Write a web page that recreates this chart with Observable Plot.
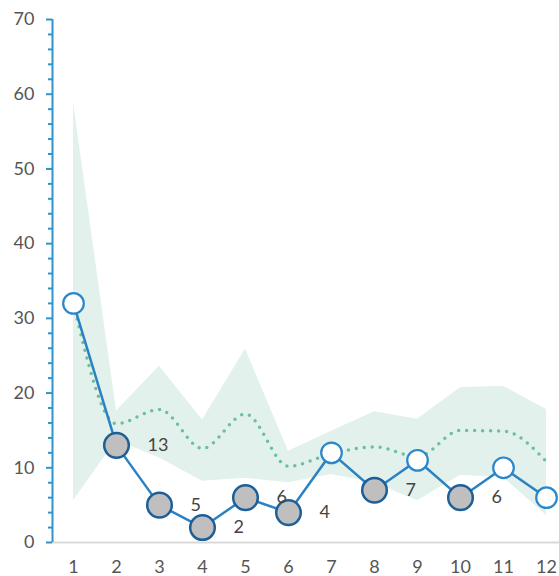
<!DOCTYPE html>
<html>
<head>
<meta charset="utf-8">
<script src="https://cdn.jsdelivr.net/npm/d3@7"></script>
<script src="https://cdn.jsdelivr.net/npm/@observablehq/plot@0.6"></script>
<style>
  html, body { margin: 0; padding: 0; background: #fff; }
</style>
</head>
<body>
<div id="chart"></div>
<script>
// Monthly values with their reference band and average
const months   = [1, 2, 3, 4, 5, 6, 7, 8, 9, 10, 11, 12];
const values   = [32, 13, 5, 2, 6, 4, 12, 7, 11, 6, 10, 6];
const bandLow  = [5.6, 13.7, 11.3, 8.2, 8.6, 8.0, 9.1, 8.0, 5.6, 9.0, 8.7, 3.6];
const bandHigh = [58.9, 17.6, 23.6, 16.4, 25.9, 12.2, 14.9, 17.5, 16.5, 20.7, 20.9, 17.8];
const average  = [32, 15.9, 17.8, 12.6, 17.2, 10.2, 11.9, 12.8, 11.5, 15.0, 14.9, 10.8];
const yMajorTicks = [0, 10, 20, 30, 40, 50, 60, 70];

const xDomain = [0.512, 12.302];
const yDomain = [0, 70];

const rows = months.map((m, i) => ({
  month: m,
  value: values[i],
  low: bandLow[i],
  high: bandHigh[i],
  avg: average[i]
}));
const below = rows.filter(d => d.value < d.low);
const within = rows.filter(d => d.value >= d.low);
const yMinorTicks = d3.range(0, 71, 2).filter(d => d % 10 !== 0);

const chart = Plot.plot({
  width: 559,
  height: 576,
  marginLeft: 52,
  marginRight: 0,
  marginTop: 19,
  marginBottom: 34,
  x: { type: "linear", domain: xDomain },
  y: { domain: yDomain },
  style: { fontFamily: "Lato, sans-serif", fontSize: "18px", background: "#fff", overflow: "visible" },
  marks: [
    Plot.areaY(rows, { x: "month", y1: "low", y2: "high", fill: "#e2f1eb" }),
    Plot.ruleY([yDomain[0]], { stroke: "#d9d9d9", strokeWidth: 2 }),
    Plot.ruleX([xDomain[0]], { y1: yDomain[0], y2: yDomain[1], stroke: "#2e94cb", strokeWidth: 2 }),
    Plot.axisY({ ticks: yMinorTicks, tickSize: 4, tickFormat: () => "", stroke: "#2e94cb", strokeWidth: 2, label: null }),
    Plot.axisY({ ticks: yMajorTicks, tickSize: 6, tickPadding: 12, stroke: "#2e94cb", strokeWidth: 2, fill: "#555", label: null }),
    Plot.axisX({ ticks: months, tickSize: 0, tickPadding: 18, fill: "#555", label: null }),
    Plot.line(rows, {
      x: "month", y: "avg", curve: "monotone-x",
      stroke: "#6cc09a", strokeWidth: 3.5, strokeDasharray: "0,8", strokeLinecap: "round"
    }),
    Plot.line(rows, { x: "month", y: "value", stroke: "#2a82c4", strokeWidth: 2.5 }),
    Plot.dot(within, { x: "month", y: "value", r: 10.3, fill: "#fff", stroke: "#2a87cc", strokeWidth: 2.2 }),
    Plot.dot(below, { x: "month", y: "value", r: 12.3, fill: "#bfbfbf", stroke: "#1d5f96", strokeWidth: 2.5 }),
    Plot.text(below, {
      x: "month", y: "value", text: d => String(d.value),
      textAnchor: "start", dx: 31, fill: "#444", fontSize: 18
    })
  ]
});

document.getElementById("chart").appendChild(chart);
</script>
</body>
</html>
